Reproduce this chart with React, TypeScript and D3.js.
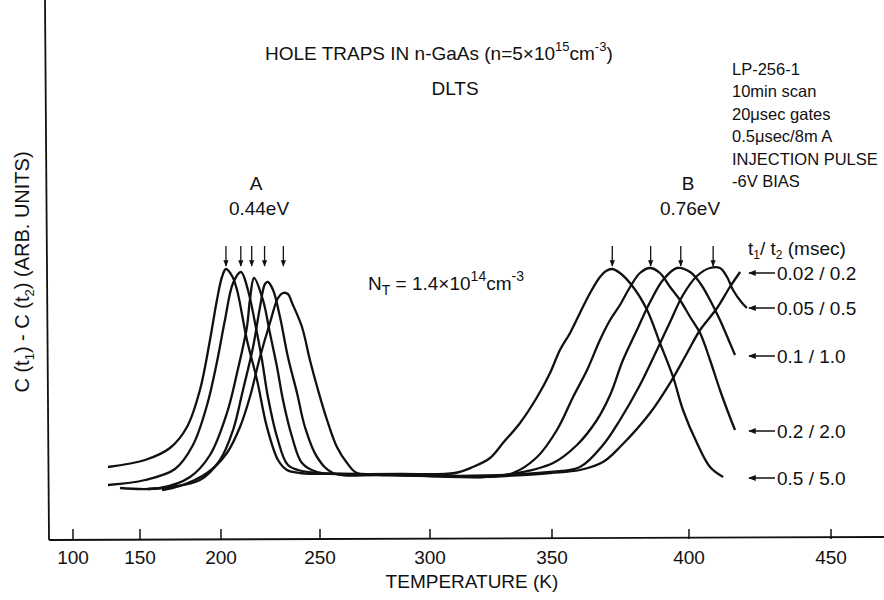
import React from "react";
import * as d3 from "d3";

// ---------- data ----------
const xTickValues = [100, 150, 200, 250, 300, 350, 400, 450];
const rateWindows = ["0.02/0.2", "0.05/0.5", "0.1/1.0", "0.2/2.0", "0.5/5.0"];
const legendLevels = [103.5, 86, 62, 24.5, 1];
const peakArrowsA = [202.5, 210, 215.5, 222, 231.5];
const peakArrowsB = [372, 386, 397, 408.5];
const infoLines = ["LP-256-1", "10min scan", "20\u03BCsec gates", "0.5\u03BCsec/8m A", "INJECTION PULSE", "-6V BIAS"];

// [temperature K, signal (arb. units)]
const curve002: [number, number][] = [
  [163.6, -5], [174.7, -3], [191.4, 3.5], [203, 13.5], [209.6, 26.5], [214.6, 41.5], [219.7, 61.5],
  [224.7, 78.5], [228.8, 91], [231.3, 93.5], [233.8, 93], [235.9, 88.5], [240.9, 76.5], [244.9, 60],
  [249, 45], [253.2, 30], [257.7, 16.5], [262.3, 8.5], [266.8, 3.5], [286.4, 2.5], [320.5, 1.5],
  [349.2, 3.5], [360.2, 5], [368.6, 9], [374.8, 16.5], [385.8, 33.5], [393.1, 48.5], [399.3, 63.5],
  [403.9, 75], [409.9, 86], [414.4, 96.5], [418, 104],
];
const curve005: [number, number][] = [
  [154.9, -4.5], [168.5, -3.5], [187, 0], [199.4, 10], [206.1, 25], [211.1, 45], [216.2, 66.5],
  [219.7, 86.5], [222.2, 98], [223.7, 99], [226.3, 95], [229.8, 81.5], [233.8, 61.5], [238.4, 43.5],
  [242.4, 26.5], [248.5, 11.5], [255.9, 3.5], [277.3, 2.5], [312.3, 2], [349.2, 4], [360.2, 6.5],
  [368.6, 17.5], [374.8, 30], [382.1, 47.5], [388.3, 65], [393.1, 79], [397.8, 92.5], [402.8, 102],
  [407.4, 106], [410.9, 106], [413.4, 101.5], [415.5, 95], [418.7, 88.5], [420.4, 86],
];
const curve01: [number, number][] = [
  [135.1, -4], [162.3, -4], [180.9, 1.5], [193.2, 12.5], [203, 33.5], [208.1, 53.5], [213.1, 76.5],
  [214.6, 90], [216.7, 101], [221.2, 90], [224.7, 73.5], [228.3, 56.5], [231.3, 40], [235.9, 21.5],
  [240.9, 8.5], [248.5, 4], [268.2, 3], [304.1, 2.5], [320.5, 1.5], [334, 3], [350.4, 8.5],
  [359.1, 17.5], [366.4, 30], [371.2, 42.5], [375.9, 60], [381, 75], [385.8, 89], [390.5, 100],
  [395.6, 106], [400.4, 104], [403.9, 98.5], [407.4, 90], [410.9, 80], [414.4, 68.5], [416.2, 62.5],
];
const curve02: [number, number][] = [
  [126.1, -2.5], [153.1, 0], [171.6, 5.5], [182.7, 17.5], [191.4, 37.5], [197.5, 59], [202, 80],
  [206.1, 98.5], [210.1, 104], [213.6, 95], [217.2, 78.5], [220.7, 60], [223.7, 41.5], [228.3, 21.5],
  [233.8, 7.5], [240.9, 4.5], [259.1, 3], [295.5, 2.5], [320.5, 1.5], [334, 3.5], [343.9, 11.5],
  [351.8, 25], [357.7, 41.5], [362.8, 55], [367.5, 70], [371.2, 80], [374.8, 87.5], [378.5, 96.5],
  [382.1, 103.5], [385.8, 106], [389.4, 103.5], [393.1, 96.5], [396.7, 90], [400.4, 81.5],
  [403.9, 73.5], [407.4, 60], [410.9, 45], [414.4, 31.5], [416.2, 25],
];
const curve05: [number, number][] = [
  [126.1, 6.5], [153.1, 10], [168.5, 16], [179, 26.5], [187, 45], [193.2, 70], [197.5, 90],
  [200.5, 101.5], [202.5, 105.5], [205.6, 102], [208.1, 95], [213.1, 70], [218.2, 50], [223.2, 26.5],
  [228.8, 10], [233.3, 5], [239.9, 3.5], [259.1, 3], [286.4, 3], [310.2, 3.5], [317.6, 6.5],
  [324.6, 11], [329.9, 18.5], [336.9, 28.5], [343.9, 41.5], [349.2, 53.5], [352.9, 65], [356.6, 73.5],
  [360.2, 83.5], [363.9, 93.5], [367.5, 101.5], [369.7, 104.5], [371.9, 105.5], [374.8, 103.5],
  [379.6, 96.5], [384.7, 85], [389.4, 68.5], [394.2, 51.5], [397.8, 35], [402.8, 18.5], [407.4, 6.5],
  [412, 1.5],
];
const curves = [curve002, curve005, curve01, curve02, curve05];

const FONT = "'Liberation Sans', Arial, sans-serif";

export default function App() {
  const W = 884, H = 600;
  const x = d3.scaleLinear().domain(xTickValues).range([73, 140, 221, 320, 430, 552, 689, 831]);
  const y = d3.scaleLinear().domain([0, 100]).range([480, 280]);
  const line = d3
    .line<[number, number]>()
    .x((d) => x(d[0]))
    .y((d) => y(d[1]))
    .curve(d3.curveCatmullRom.alpha(0.5));

  const axisY = 538;
  const axisX = 47;

  return (
    <svg width={W} height={H} style={{ position: "absolute", left: 0, top: 0, background: "#fff" }} fontFamily={FONT}>
      <defs>
        <marker id="ah" viewBox="0 0 10 10" refX="9" refY="5" markerWidth="5" markerHeight="6" orient="auto-start-reverse">
          <path d="M0,1 L10,5 L0,9 z" fill="#111" />
        </marker>
      </defs>
      <rect width={W} height={H} fill="#fff" />

      {/* axes */}
      <line x1={axisX - 2} y1={0} x2={axisX + 2} y2={axisY + 2} stroke="#111" strokeWidth={1.8} />
      <line x1={axisX + 2} y1={axisY + 2} x2={W} y2={axisY - 1} stroke="#111" strokeWidth={1.8} />
      {xTickValues.map((t) => (
        <g key={t}>
          <line x1={x(t)} x2={x(t)} y1={axisY - 9} y2={axisY + 1} stroke="#111" strokeWidth={1.5} />
          <text x={x(t)} y={564} textAnchor="middle" fontSize={19} fill="#111">{t}</text>
        </g>
      ))}
      <text x={472} y={588} textAnchor="middle" fontSize={19} fill="#111">TEMPERATURE (K)</text>

      {/* y label */}
      <text transform="translate(29,272) rotate(-90)" textAnchor="middle" fontSize={20} fill="#111">
        C (t<tspan fontSize={13} dy={5}>1</tspan><tspan dy={-5}>) - C (t</tspan><tspan fontSize={13} dy={5}>2</tspan><tspan dy={-5}>) (ARB. UNITS)</tspan>
      </text>

      {/* title */}
      <text x={265} y={60} fontSize={19} fill="#111">
        HOLE TRAPS IN n-GaAs (n=5×10<tspan fontSize={13} dy={-9}>15</tspan><tspan dy={9}>cm</tspan><tspan fontSize={13} dy={-9}>-3</tspan><tspan dy={9}>)</tspan>
      </text>
      <text x={455} y={95} textAnchor="middle" fontSize={19} fill="#111">DLTS</text>

      {/* info block */}
      {infoLines.map((s, i) => (
        <text key={s} x={732} y={75 + i * 22.4} fontSize={16.5} fill="#111">{s}</text>
      ))}

      {/* peak labels */}
      <text x={256} y={190} textAnchor="middle" fontSize={19} fill="#111">A</text>
      <text x={259} y={215} textAnchor="middle" fontSize={19} fill="#111">0.44eV</text>
      <text x={688} y={190} textAnchor="middle" fontSize={19} fill="#111">B</text>
      <text x={690} y={215} textAnchor="middle" fontSize={19} fill="#111">0.76eV</text>

      {/* N_T */}
      <text x={368} y={290} fontSize={19} fill="#111">
        N<tspan fontSize={14} dy={5}>T</tspan><tspan dy={-5}> = 1.4×10</tspan><tspan fontSize={14} dy={-9}>14</tspan><tspan dy={9}>cm</tspan><tspan fontSize={14} dy={-9}>-3</tspan>
      </text>

      {/* peak arrows */}
      {[...peakArrowsA, ...peakArrowsB].map((t, i) => (
        <line key={i} x1={x(t)} x2={x(t)} y1={246} y2={266} stroke="#111" strokeWidth={1.3} markerEnd="url(#ah)" />
      ))}

      {/* curves */}
      {curves.map((c, i) => (
        <path key={i} d={line(c) || ""} fill="none" stroke="#111" strokeWidth={2.3} strokeLinejoin="round" />
      ))}

      {/* legend */}
      <text x={748} y={255} fontSize={19} fill="#111">
        t<tspan fontSize={12} dy={4}>1</tspan><tspan dy={-4}>/ t</tspan><tspan fontSize={12} dy={4}>2</tspan><tspan dy={-4}> (msec)</tspan>
      </text>
      {rateWindows.map((w, i) => (
        <g key={w}>
          <line x1={775} x2={749} y1={y(legendLevels[i])} y2={y(legendLevels[i])} stroke="#111" strokeWidth={1.5} markerEnd="url(#ah)" />
          <text x={777} y={y(legendLevels[i]) + 7} fontSize={19} fill="#111">{w.replace("/", " / ")}</text>
        </g>
      ))}
    </svg>
  );
}
